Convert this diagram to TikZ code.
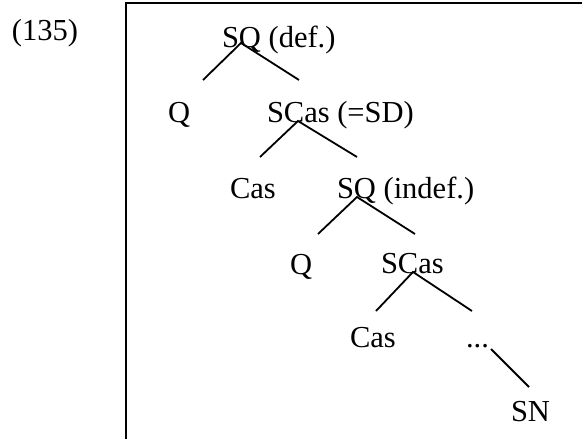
\documentclass[tikz,border=0pt]{standalone}
\usepackage{fontspec}
\setmainfont{Liberation Serif}
\begin{document}
\begin{tikzpicture}[x=1pt,y=-1pt,
  lbl/.style={anchor=base west,inner sep=0pt,outer sep=0pt,
              font=\fontsize{30.5}{36}\selectfont},
  branch/.style={line width=1.8pt},
  frame/.style={line width=2.2pt}]
\useasboundingbox (0,0) rectangle (582,439);

% example number
\node[lbl] (num) at (12,41) {(135)};

% open frame: left side and top
\draw[frame] (126,440) -- (126,3) -- (583,3);

% labels of the tree
\node[lbl] (sqdef)   at (222,48)  {SQ (def.)};
\node[lbl] (q1)      at (168,122) {Q};
\node[lbl] (scassd)  at (267,122) {SCas (=SD)};
\node[lbl] (cas1)    at (230,198) {Cas};
\node[lbl] (sqindef) at (337,198) {SQ (indef.)};
\node[lbl] (q2)      at (290,274) {Q};
\node[lbl] (scas)    at (381,273) {SCas};
\node[lbl] (cas2)    at (350,347) {Cas};
\node[lbl] (dots)    at (466,347) {...};
\node[lbl] (sn)      at (511,421) {SN};

% branch points and branch ends
\coordinate (a1) at (241,43);
\coordinate (l1) at (203,80);
\coordinate (r1) at (299,80);
\coordinate (a2) at (298,121);
\coordinate (l2) at (260,157);
\coordinate (r2) at (357,157);
\coordinate (a3) at (357,197);
\coordinate (l3) at (318,234);
\coordinate (r3) at (415,234);
\coordinate (a4) at (413,272);
\coordinate (l4) at (376,311);
\coordinate (r4) at (472,311);
\coordinate (a5) at (491,349);
\coordinate (e5) at (529,387);

% branches
\draw[branch] (l1) -- (a1) -- (r1);
\draw[branch] (l2) -- (a2) -- (r2);
\draw[branch] (l3) -- (a3) -- (r3);
\draw[branch] (l4) -- (a4) -- (r4);
\draw[branch] (a5) -- (e5);
\end{tikzpicture}
\end{document}
